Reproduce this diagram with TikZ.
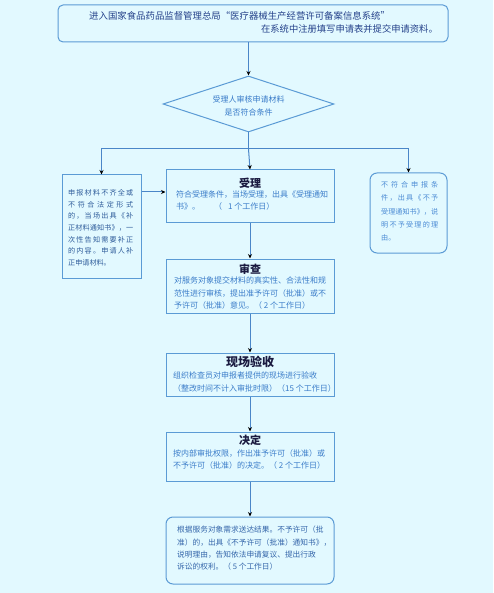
\documentclass[tikz,border=0pt]{standalone}
\usepackage{fontspec}
\setmainfont{Noto Sans CJK SC}
\usetikzlibrary{shapes.geometric,arrows.meta,calc}
\definecolor{bg}{HTML}{E2F9FF}
\definecolor{bord}{HTML}{5B9BD5}
\definecolor{linec}{HTML}{4A86C8}
\definecolor{topc}{HTML}{24418A}
\definecolor{titlec}{HTML}{1A1A40}
\definecolor{bodyc}{HTML}{3A7CC9}
\definecolor{leftc}{HTML}{2D5B9A}
\definecolor{rightc}{HTML}{4A8AD4}
\definecolor{lastc}{HTML}{3566AA}
\makeatletter
\def\spr@aux#1{\ifx#1\relax\else#1\hfil\expandafter\spr@aux\fi}
\newcommand\spreadln[2]{\makebox[#1][s]{\spr@aux#2\relax\unskip}}
\makeatother
\begin{document}
\begin{tikzpicture}[x=1pt,y=-1pt,
  box/.style={draw=bord,line width=1pt,inner sep=0pt,minimum width=168pt},
  rbox/.style={box,rounded corners=7pt},
  ttl/.style={font=\fontsize{11}{13}\selectfont\bfseries,text=titlec,inner sep=0pt},
  body/.style={font=\fontsize{8}{12.4}\selectfont,text=bodyc,align=left,inner sep=0pt,anchor=north west},
  arr/.style={draw=linec,line width=1pt,-{Stealth[color=black,length=4.5pt,width=4pt]}},
  ln/.style={draw=linec,line width=1pt}]
\fill[bg] (0,0) rectangle (493,593);
\useasboundingbox (0,0) rectangle (493,593);

% top box
\node[rbox,rounded corners=5pt,minimum width=390pt,minimum height=37pt] (top) at (253,23.5) {};
\node[font=\fontsize{9.4}{12}\selectfont,text=topc,inner sep=0pt,anchor=west] (topA) at (89,16) {进入国家食品药品监督管理总局“医疗器械生产经营许可备案信息系统”};
\node[font=\fontsize{9.3}{12}\selectfont,text=topc,inner sep=0pt,anchor=east] (topB) at (438,28.5) {在系统中注册填写申请表并提交申请资料。};

% diamond
\node[diamond,draw=bord,line width=1pt,aspect=3,inner sep=0pt,minimum width=171pt,minimum height=56pt] (dia) at (248.5,104) {};
\node[font=\fontsize{8}{13}\selectfont,text=bodyc,align=center,inner sep=0pt] (diaT) at (248.5,105.5) {受理人审核申请材料\\是否符合条件};

\coordinate (j) at (248.5,149);

% left box
\node[box,minimum width=79pt,minimum height=103pt] (left) at (101.5,226.5) {};
\node[body,font=\fontsize{7.1}{11.6}\selectfont,text=leftc] (leftT) at (68,189.5) {%
\spreadln{65pt}{申报材料不齐全或}\\
\spreadln{65pt}{不符合法定形式}\\
\spreadln{65pt}{的，当场出具《补}\\
\spreadln{65pt}{正材料通知书》，一}\\
\spreadln{65pt}{次性告知需要补正}\\
\spreadln{65pt}{的内容。申请人补}\\
正申请材料。};

% right box
\node[rbox,minimum width=77pt,minimum height=80pt] (right) at (408.5,213) {};
\node[body,font=\fontsize{7.1}{13.3}\selectfont,text=rightc] (rightT) at (381,181.5) {%
\spreadln{57pt}{不符合申报条}\\
\spreadln{57pt}{件，出具《不予}\\
\spreadln{57pt}{受理通知书》，说}\\
\spreadln{57pt}{明不予受理的理}\\
由。};

% 受理
\node[box,minimum height=53pt] (sl) at (250,196.5) {};
\node[ttl] (slT) at (250,183) {受理};
\node[body] (slB) at (176,190.5) {符合受理条件，当场受理，出具《受理通知\\书》。\hspace{14pt}（\hspace{6pt}1 个工作日）};

% 审查
\node[box,minimum height=54pt] (sc) at (250,286) {};
\node[ttl] (scT) at (250,269) {审查};
\node[body] (scB) at (174,277) {对服务对象提交材料的真实性、合法性和规\\范性进行审核，提出准予许可（批准）或不\\予许可（批准）意见。（ 2 个工作日）};

% 现场验收
\node[box,minimum height=43pt] (xc) at (250,374.5) {};
\node[ttl,font=\fontsize{12}{14}\selectfont\bfseries] (xcT) at (250,362) {现场验收};
\node[body] (xcB) at (173,372) {组织检查员对申报者提供的现场进行验收\\（整改时间不计入审批时限）（15 个工作日）};

% 决定
\node[box,minimum height=49pt] (jd) at (250,456.5) {};
\node[ttl] (jdT) at (250,440) {决定};
\node[body] (jdB) at (173,449) {按内部审批权限，作出准予许可（批准）或\\不予许可（批准）的决定。（ 2 个工作日）};

% last
\node[rbox,minimum height=67pt] (last) at (250,550.5) {};
\node[body,font=\fontsize{7.7}{12.3}\selectfont,text=lastc] (lastB) at (177,526) {根据服务对象需求送达结果。不予许可（批\\准）的，出具《不予许可（批准）通知书》，\\说明理由，告知依法申请复议、提出行政\\诉讼的权利。（ 5 个工作日）};

% connectors
\draw[arr] (top.south -| dia.north) -- (dia.north);
\draw[ln] (dia.south) -- (j);
\draw[arr] (j) -| (left.north);
\draw[arr] (j) -| (right.north);
\draw[arr] (j) -- (sl.north);
\draw[arr] ([yshift=4.5pt]sl.west -| left.east) -- ([yshift=4.5pt]sl.west);
\draw[arr] (sl.south) -- (sc.north);
\draw[arr] (sc.south) -- (xc.north);
\draw[arr] (xc.south) -- (jd.north);
\draw[arr] (jd.south) -- (last.north);
\end{tikzpicture}
\end{document}
